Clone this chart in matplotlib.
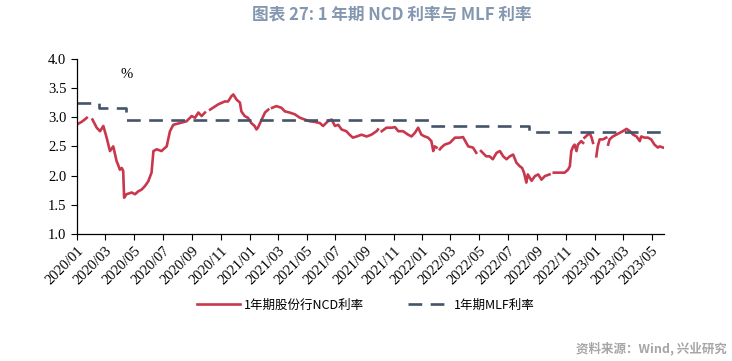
import numpy as np
import pandas as pd
import matplotlib
matplotlib.use("Agg")
import matplotlib.pyplot as plt
import matplotlib.dates as mdates

# 1年期股份行NCD利率 (NaN = break in the line)
ncd_dates = [
    "2020-01-02", "2020-01-11", "2020-01-16", "2020-01-22", "2020-01-28",
    "2020-02-03", "2020-02-12", "2020-02-19", "2020-02-26", "2020-03-04",
    "2020-03-11", "2020-03-18", "2020-03-25", "2020-03-28", "2020-04-01",
    "2020-04-05", "2020-04-08", "2020-04-10", "2020-04-15", "2020-04-26",
    "2020-05-03", "2020-05-10", "2020-05-17", "2020-05-24", "2020-05-31",
    "2020-06-07", "2020-06-11", "2020-06-18", "2020-06-28", "2020-07-09",
    "2020-07-16", "2020-07-23", "2020-08-06", "2020-08-20", "2020-08-31",
    "2020-09-07", "2020-09-14", "2020-09-21", "2020-09-28", "2020-10-03",
    "2020-10-09", "2020-10-26", "2020-11-09", "2020-11-16", "2020-11-23",
    "2020-11-27", "2020-12-04", "2020-12-11", "2020-12-14", "2020-12-21",
    "2020-12-28", "2021-01-04", "2021-01-11", "2021-01-15", "2021-01-18",
    "2021-01-26", "2021-02-02", "2021-02-09", "2021-02-13", "2021-02-17",
    "2021-02-26", "2021-03-09", "2021-03-16", "2021-03-26", "2021-04-06",
    "2021-04-17", "2021-04-27", "2021-05-08", "2021-05-18", "2021-05-29",
    "2021-06-05", "2021-06-15", "2021-06-23", "2021-06-30", "2021-07-07",
    "2021-07-14", "2021-07-24", "2021-07-31", "2021-08-07", "2021-08-15",
    "2021-08-25", "2021-09-05", "2021-09-15", "2021-09-26", "2021-09-29",
    "2021-10-03", "2021-10-07", "2021-10-17", "2021-10-28", "2021-11-04",
    "2021-11-11", "2021-11-21", "2021-12-02", "2021-12-09", "2021-12-16",
    "2021-12-23", "2021-12-30", "2022-01-06", "2022-01-13", "2022-01-20",
    "2022-01-24", "2022-01-27", "2022-01-31", "2022-02-03", "2022-02-07",
    "2022-02-10", "2022-02-17", "2022-02-28", "2022-03-11", "2022-03-21",
    "2022-03-28", "2022-04-04", "2022-04-08", "2022-04-18", "2022-04-25",
    "2022-04-30", "2022-05-05", "2022-05-16", "2022-05-23", "2022-05-30",
    "2022-06-07", "2022-06-14", "2022-06-21", "2022-06-28", "2022-07-05",
    "2022-07-12", "2022-07-19", "2022-07-26", "2022-07-31", "2022-08-04",
    "2022-08-09", "2022-08-12", "2022-08-20", "2022-08-27", "2022-09-03",
    "2022-09-10", "2022-09-17", "2022-09-27", "2022-10-01", "2022-10-06",
    "2022-10-15", "2022-10-22", "2022-10-29", "2022-11-05", "2022-11-09",
    "2022-11-12", "2022-11-16", "2022-11-19", "2022-11-23", "2022-11-26",
    "2022-12-03", "2022-12-07", "2022-12-09", "2022-12-10", "2022-12-17",
    "2022-12-21", "2022-12-25", "2022-12-28", "2023-01-02", "2023-01-04",
    "2023-01-07", "2023-01-11", "2023-01-18", "2023-01-25", "2023-01-27",
    "2023-01-29", "2023-02-01", "2023-02-08", "2023-02-15", "2023-02-22",
    "2023-03-01", "2023-03-09", "2023-03-16", "2023-03-23", "2023-03-30",
    "2023-04-06", "2023-04-09", "2023-04-16", "2023-04-23", "2023-04-30",
    "2023-05-07", "2023-05-14", "2023-05-18", "2023-05-25",
]
ncd_values = [
    2.88, 2.92, 2.95, 2.99, np.nan,
    2.96, 2.82, 2.76, 2.85, 2.65,
    2.42, 2.50, 2.25, 2.19, 2.10,
    2.13, 2.08, 1.62, 1.68, 1.71,
    1.68, 1.73, 1.76, 1.82, 1.90,
    2.05, 2.42, 2.45, 2.42, 2.50,
    2.76, 2.87, 2.90, 2.93, 3.02,
    2.99, 3.08, 3.02, 3.08, np.nan,
    3.13, 3.22, 3.27, 3.27, 3.36,
    3.39, 3.30, 3.25, 3.10, 3.02,
    2.99, 2.90, 2.85, 2.79, 2.82,
    2.96, 3.08, 3.13, np.nan, 3.16,
    3.19, 3.16, 3.10, 3.08, 3.05,
    2.99, 2.96, 2.93, 2.92, 2.90,
    2.85, 2.93, 2.96, 2.85, 2.87,
    2.79, 2.76, 2.70, 2.65, 2.67,
    2.70, 2.67, 2.70, 2.76, 2.79,
    np.nan, 2.76, 2.82, 2.82, 2.83,
    2.76, 2.76, 2.70, 2.67, 2.73,
    2.82, 2.70, 2.67, 2.65, 2.59,
    2.42, 2.50, 2.48, np.nan, 2.45,
    2.48, 2.53, 2.56, 2.65, 2.65,
    2.66, 2.56, 2.50, 2.48, 2.39,
    np.nan, 2.42, 2.33, 2.33, 2.28,
    2.39, 2.42, 2.33, 2.28, 2.33,
    2.36, 2.22, 2.16, 2.13, 2.05,
    1.88, 2.02, 1.91, 1.99, 2.02,
    1.93, 1.99, 2.02, np.nan, 2.05,
    2.05, 2.05, 2.05, 2.10, 2.16,
    2.42, 2.50, 2.53, 2.42, 2.53,
    2.59, 2.56, np.nan, 2.65, 2.70,
    2.73, 2.65, 2.56, np.nan, 2.33,
    2.50, 2.62, 2.62, 2.65, np.nan,
    2.53, 2.62, 2.67, 2.70, 2.73,
    2.76, 2.80, 2.76, 2.70, 2.67,
    2.59, 2.67, 2.65, 2.65, 2.62,
    2.53, 2.48, 2.50, 2.48,
]

# 1年期MLF利率 (step changes)
mlf_dates = ["2020-01-01", "2020-02-17", "2020-04-15", "2022-01-17", "2022-08-15", "2023-05-27"]
mlf_values = [3.25, 3.15, 2.95, 2.85, 2.75, 2.75]

title = "图表 27: 1 年期 NCD 利率与 MLF 利率"
ncd_label = "1年期股份行NCD利率"
mlf_label = "1年期MLF利率"
source = "资料来源：Wind, 兴业研究"

red = "#C9374C"
navy = "#44546A"
cjk = ["Noto Sans CJK SC", "DejaVu Sans"]
num_font = ["Liberation Serif", "DejaVu Serif"]

fig = plt.figure(figsize=(7.32, 3.61), dpi=100)
ax = fig.add_axes([0.105, 0.352, 0.802, 0.485])

ax.plot(pd.to_datetime(ncd_dates), ncd_values, color=red, lw=1.9, label=ncd_label)
ax.plot(pd.to_datetime(mlf_dates), mlf_values, color=navy, lw=1.9,
        drawstyle="steps-post", linestyle=(0, (5.2, 3.2)), label=mlf_label)

ax.set_xlim(pd.Timestamp("2020-01-01"), pd.Timestamp("2023-05-27"))
ax.set_ylim(1.0, 4.0)
ax.set_yticks(np.arange(1.0, 4.01, 0.5))
ax.yaxis.set_major_formatter(plt.FormatStrFormatter("%.1f"))
ax.xaxis.set_major_locator(mdates.MonthLocator(bymonth=[1, 3, 5, 7, 9, 11]))
ax.xaxis.set_major_formatter(mdates.DateFormatter("%Y/%m"))

for s in ["top", "right"]:
    ax.spines[s].set_visible(False)
for s in ["left", "bottom"]:
    ax.spines[s].set_color("black")
    ax.spines[s].set_linewidth(0.9)
ax.tick_params(axis="both", direction="out", length=4, width=0.8, color="black")
for lab in ax.get_yticklabels():
    lab.set_family(num_font)
    lab.set_fontsize(10.5)
for lab in ax.get_xticklabels():
    lab.set_family(num_font)
    lab.set_fontsize(10.5)
    lab.set_rotation(45)
    lab.set_ha("right")
    lab.set_rotation_mode("anchor")

ax.text(0.085, 0.91, "%", transform=ax.transAxes, fontsize=10.5,
        family=num_font, ha="center", va="center")

fig.text(0.535, 0.96, title, ha="center", va="center", fontsize=12,
         fontweight="bold", color="#8497B0", family=cjk)

fig.legend(loc="center", bbox_to_anchor=(0.5, 0.155), ncol=2, frameon=False,
           prop={"family": cjk, "size": 9}, handlelength=3.4, columnspacing=3.5,
           handletextpad=0.3)

fig.text(0.993, 0.035, source, ha="right", va="center", fontsize=9,
         fontweight="bold", color="#A6A6A6", family=cjk)

fig.savefig("out.png", dpi=100)
